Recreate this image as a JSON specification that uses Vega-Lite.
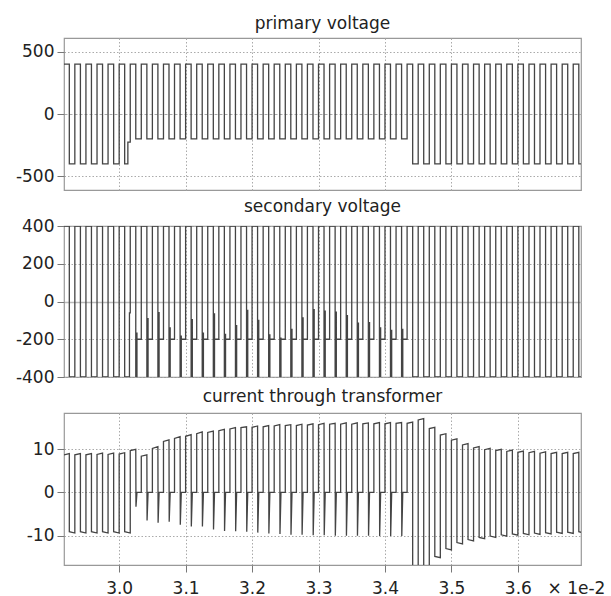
{
"$schema": "https://vega.github.io/schema/vega-lite/v6.json",
"padding": {"left": 14, "top": 14, "right": 5, "bottom": 5},
"background": "white",
"config": {
  "font": "DejaVu Sans",
  "view": {"stroke": "#999", "strokeWidth": 1.2},
  "axis": {"labelFont": "DejaVu Sans", "labelFontSize": 17, "labelColor": "#222", "tickColor": "#777", "domain": false, "grid": true, "gridColor": "#aaa", "gridDash": [1.5, 2], "tickSize": 7, "labelPadding": 3, "labelOverlap": false, "title": null, "labelExpr": "replace(datum.label, '−', '-')"},
  "title": {"font": "DejaVu Sans", "fontSize": 17, "fontWeight": "normal", "color": "#222", "baseline": "alphabetic", "anchor": "middle", "frame": "group"}
},
"bounds": "flush",
"spacing": 36,
"datasets": {
"primary": [
{"t":2.9167,"v":400},{"t":2.925,"v":-400},{"t":2.9333,"v":400},{"t":2.9417,"v":-400},{"t":2.95,"v":400},{"t":2.9583,"v":-400},{"t":2.9667,"v":400},{"t":2.975,"v":-400},{"t":2.9833,"v":400},{"t":2.9917,"v":-400},{"t":3.0,"v":400},{"t":3.0083,"v":-400},{"t":3.0131,"v":-225},
{"t":3.0167,"v":400},{"t":3.025,"v":-200},{"t":3.0333,"v":400},{"t":3.0417,"v":-200},{"t":3.05,"v":400},{"t":3.0583,"v":-200},{"t":3.0667,"v":400},{"t":3.075,"v":-200},{"t":3.0833,"v":400},{"t":3.0917,"v":-200},{"t":3.1,"v":400},{"t":3.1083,"v":-200},{"t":3.1167,"v":400},{"t":3.125,"v":-200},{"t":3.1333,"v":400},{"t":3.1417,"v":-200},{"t":3.15,"v":400},{"t":3.1583,"v":-200},{"t":3.1667,"v":400},{"t":3.175,"v":-200},{"t":3.1833,"v":400},{"t":3.1917,"v":-200},{"t":3.2,"v":400},{"t":3.2083,"v":-200},{"t":3.2167,"v":400},{"t":3.225,"v":-200},{"t":3.2333,"v":400},{"t":3.2417,"v":-200},{"t":3.25,"v":400},{"t":3.2583,"v":-200},{"t":3.2667,"v":400},{"t":3.275,"v":-200},{"t":3.2833,"v":400},{"t":3.2917,"v":-200},{"t":3.3,"v":400},{"t":3.3083,"v":-200},{"t":3.3167,"v":400},{"t":3.325,"v":-200},{"t":3.3333,"v":400},{"t":3.3417,"v":-200},{"t":3.35,"v":400},{"t":3.3583,"v":-200},{"t":3.3667,"v":400},{"t":3.375,"v":-200},{"t":3.3833,"v":400},{"t":3.3917,"v":-200},{"t":3.4,"v":400},{"t":3.4083,"v":-200},{"t":3.4167,"v":400},{"t":3.425,"v":-200},
{"t":3.4333,"v":400},{"t":3.4417,"v":-400},{"t":3.45,"v":400},{"t":3.4583,"v":-400},{"t":3.4667,"v":400},{"t":3.475,"v":-400},{"t":3.4833,"v":400},{"t":3.4917,"v":-400},{"t":3.5,"v":400},{"t":3.5083,"v":-400},{"t":3.5167,"v":400},{"t":3.525,"v":-400},{"t":3.5333,"v":400},{"t":3.5417,"v":-400},{"t":3.55,"v":400},{"t":3.5583,"v":-400},{"t":3.5667,"v":400},{"t":3.575,"v":-400},{"t":3.5833,"v":400},{"t":3.5917,"v":-400},{"t":3.6,"v":400},{"t":3.6083,"v":-400},{"t":3.6167,"v":400},{"t":3.625,"v":-400},{"t":3.6333,"v":400},{"t":3.6417,"v":-400},{"t":3.65,"v":400},{"t":3.6583,"v":-400},{"t":3.6667,"v":400},{"t":3.675,"v":-400},{"t":3.6833,"v":400},{"t":3.6917,"v":-400},{"t":3.7,"v":400}
],
"secondary": [
{"t":2.9167,"v":400},{"t":2.925,"v":-400},{"t":2.9333,"v":400},{"t":2.9417,"v":-400},{"t":2.95,"v":400},{"t":2.9583,"v":-400},{"t":2.9667,"v":400},{"t":2.975,"v":-400},{"t":2.9833,"v":400},{"t":2.9917,"v":-400},{"t":3.0,"v":400},{"t":3.0083,"v":-400},{"t":3.0155,"v":-60},
{"t":3.0167,"v":400},{"t":3.025,"v":-400},{"t":3.0268,"v":-164},{"t":3.0268,"v":-200},
{"t":3.0333,"v":400},{"t":3.0417,"v":-400},{"t":3.0435,"v":-88},{"t":3.0435,"v":-200},
{"t":3.05,"v":400},{"t":3.0583,"v":-400},{"t":3.0601,"v":-56},{"t":3.0601,"v":-200},
{"t":3.0667,"v":400},{"t":3.075,"v":-400},{"t":3.0768,"v":-136},{"t":3.0768,"v":-200},
{"t":3.0833,"v":400},{"t":3.0917,"v":-400},{"t":3.0935,"v":-180},{"t":3.0935,"v":-200},
{"t":3.1,"v":400},{"t":3.1083,"v":-400},{"t":3.1101,"v":-93},{"t":3.1101,"v":-200},
{"t":3.1167,"v":400},{"t":3.125,"v":-400},{"t":3.1268,"v":-164},{"t":3.1268,"v":-200},
{"t":3.1333,"v":400},{"t":3.1417,"v":-400},{"t":3.1435,"v":-62},{"t":3.1435,"v":-200},
{"t":3.15,"v":400},{"t":3.1583,"v":-400},{"t":3.1601,"v":-171},{"t":3.1601,"v":-200},
{"t":3.1667,"v":400},{"t":3.175,"v":-400},{"t":3.1768,"v":-124},{"t":3.1768,"v":-200},
{"t":3.1833,"v":400},{"t":3.1917,"v":-400},{"t":3.1935,"v":-44},{"t":3.1935,"v":-200},
{"t":3.2,"v":400},{"t":3.2083,"v":-400},{"t":3.2101,"v":-97},{"t":3.2101,"v":-200},
{"t":3.2167,"v":400},{"t":3.225,"v":-400},{"t":3.2268,"v":-173},{"t":3.2268,"v":-200},
{"t":3.2333,"v":400},{"t":3.2417,"v":-400},{"t":3.2435,"v":-191},{"t":3.2435,"v":-200},
{"t":3.25,"v":400},{"t":3.2583,"v":-400},{"t":3.2601,"v":-145},{"t":3.2601,"v":-200},
{"t":3.2667,"v":400},{"t":3.275,"v":-400},{"t":3.2768,"v":-83},{"t":3.2768,"v":-200},
{"t":3.2833,"v":400},{"t":3.2917,"v":-400},{"t":3.2935,"v":-40},{"t":3.2935,"v":-200},
{"t":3.3,"v":400},{"t":3.3083,"v":-400},{"t":3.3101,"v":-48},{"t":3.3101,"v":-200},
{"t":3.3167,"v":400},{"t":3.325,"v":-400},{"t":3.3268,"v":-53},{"t":3.3268,"v":-200},
{"t":3.3333,"v":400},{"t":3.3417,"v":-400},{"t":3.3435,"v":-71},{"t":3.3435,"v":-200},
{"t":3.35,"v":400},{"t":3.3583,"v":-400},{"t":3.3601,"v":-111},{"t":3.3601,"v":-200},
{"t":3.3667,"v":400},{"t":3.375,"v":-400},{"t":3.3768,"v":-109},{"t":3.3768,"v":-200},
{"t":3.3833,"v":400},{"t":3.3917,"v":-400},{"t":3.3935,"v":-136},{"t":3.3935,"v":-200},
{"t":3.4,"v":400},{"t":3.4083,"v":-400},{"t":3.4101,"v":-150},{"t":3.4101,"v":-200},
{"t":3.4167,"v":400},{"t":3.425,"v":-400},{"t":3.4268,"v":-145},{"t":3.4268,"v":-200},
{"t":3.4333,"v":400},{"t":3.4417,"v":-400},{"t":3.45,"v":400},{"t":3.4583,"v":-400},{"t":3.4667,"v":400},{"t":3.475,"v":-400},{"t":3.4833,"v":400},{"t":3.4917,"v":-400},{"t":3.5,"v":400},{"t":3.5083,"v":-400},{"t":3.5167,"v":400},{"t":3.525,"v":-400},{"t":3.5333,"v":400},{"t":3.5417,"v":-400},{"t":3.55,"v":400},{"t":3.5583,"v":-400},{"t":3.5667,"v":400},{"t":3.575,"v":-400},{"t":3.5833,"v":400},{"t":3.5917,"v":-400},{"t":3.6,"v":400},{"t":3.6083,"v":-400},{"t":3.6167,"v":400},{"t":3.625,"v":-400},{"t":3.6333,"v":400},{"t":3.6417,"v":-400},{"t":3.65,"v":400},{"t":3.6583,"v":-400},{"t":3.6667,"v":400},{"t":3.675,"v":-400},{"t":3.6833,"v":400},{"t":3.6917,"v":-400},{"t":3.7,"v":400}
],
"current": [
{"t":2.9167,"v":8.7},{"t":2.925,"v":9.0},{"t":2.925,"v":-9.1},{"t":2.9333,"v":-9.4},
{"t":2.9333,"v":8.7},{"t":2.9417,"v":9.0},{"t":2.9417,"v":-9.1},{"t":2.95,"v":-9.4},
{"t":2.95,"v":8.7},{"t":2.9583,"v":9.0},{"t":2.9583,"v":-9.1},{"t":2.9667,"v":-9.4},
{"t":2.9667,"v":8.8},{"t":2.975,"v":9.1},{"t":2.975,"v":-9.1},{"t":2.9833,"v":-9.4},
{"t":2.9833,"v":8.8},{"t":2.9917,"v":9.1},{"t":2.9917,"v":-9.1},{"t":3.0,"v":-9.4},
{"t":3.0,"v":8.9},{"t":3.0083,"v":9.2},{"t":3.0083,"v":-9.1},{"t":3.0167,"v":-9.4},
{"t":3.0167,"v":9.7},{"t":3.025,"v":10.0},{"t":3.0253,"v":-3.3},{"t":3.0268,"v":0},{"t":3.0333,"v":0},
{"t":3.0333,"v":8.4},{"t":3.0417,"v":8.7},{"t":3.042,"v":-6.5},{"t":3.0435,"v":0},{"t":3.05,"v":0},
{"t":3.05,"v":10.2},{"t":3.0583,"v":10.6},{"t":3.0586,"v":-7.0},{"t":3.0601,"v":0},{"t":3.0667,"v":0},
{"t":3.0667,"v":11.8},{"t":3.075,"v":12.2},{"t":3.0753,"v":-6.8},{"t":3.0768,"v":0},{"t":3.0833,"v":0},
{"t":3.0833,"v":12.5},{"t":3.0917,"v":12.9},{"t":3.092,"v":-7.5},{"t":3.0935,"v":0},{"t":3.1,"v":0},
{"t":3.1,"v":13.0},{"t":3.1083,"v":13.4},{"t":3.1086,"v":-7.9},{"t":3.1101,"v":0},{"t":3.1167,"v":0},
{"t":3.1167,"v":13.6},{"t":3.125,"v":14.0},{"t":3.1253,"v":-7.9},{"t":3.1268,"v":0},{"t":3.1333,"v":0},
{"t":3.1333,"v":13.9},{"t":3.1417,"v":14.2},{"t":3.142,"v":-8.6},{"t":3.1435,"v":0},{"t":3.15,"v":0},
{"t":3.15,"v":14.3},{"t":3.1583,"v":14.6},{"t":3.1586,"v":-8.9},{"t":3.1601,"v":0},{"t":3.1667,"v":0},
{"t":3.1667,"v":14.7},{"t":3.175,"v":15.0},{"t":3.1753,"v":-9.0},{"t":3.1768,"v":0},{"t":3.1833,"v":0},
{"t":3.1833,"v":15.0},{"t":3.1917,"v":15.2},{"t":3.192,"v":-9.1},{"t":3.1935,"v":0},{"t":3.2,"v":0},
{"t":3.2,"v":15.1},{"t":3.2083,"v":15.4},{"t":3.2086,"v":-9.3},{"t":3.2101,"v":0},{"t":3.2167,"v":0},
{"t":3.2167,"v":15.2},{"t":3.225,"v":15.5},{"t":3.2253,"v":-9.5},{"t":3.2268,"v":0},{"t":3.2333,"v":0},
{"t":3.2333,"v":15.4},{"t":3.2417,"v":15.7},{"t":3.242,"v":-9.6},{"t":3.2435,"v":0},{"t":3.25,"v":0},
{"t":3.25,"v":15.5},{"t":3.2583,"v":15.7},{"t":3.2586,"v":-9.8},{"t":3.2601,"v":0},{"t":3.2667,"v":0},
{"t":3.2667,"v":15.5},{"t":3.275,"v":15.8},{"t":3.2753,"v":-9.8},{"t":3.2768,"v":0},{"t":3.2833,"v":0},
{"t":3.2833,"v":15.6},{"t":3.2917,"v":15.9},{"t":3.292,"v":-9.9},{"t":3.2935,"v":0},{"t":3.3,"v":0},
{"t":3.3,"v":15.7},{"t":3.3083,"v":16.0},{"t":3.3086,"v":-9.9},{"t":3.3101,"v":0},{"t":3.3167,"v":0},
{"t":3.3167,"v":15.8},{"t":3.325,"v":16.0},{"t":3.3253,"v":-10.0},{"t":3.3268,"v":0},{"t":3.3333,"v":0},
{"t":3.3333,"v":15.8},{"t":3.3417,"v":16.1},{"t":3.342,"v":-10.0},{"t":3.3435,"v":0},{"t":3.35,"v":0},
{"t":3.35,"v":15.8},{"t":3.3583,"v":16.1},{"t":3.3586,"v":-10.0},{"t":3.3601,"v":0},{"t":3.3667,"v":0},
{"t":3.3667,"v":15.9},{"t":3.375,"v":16.1},{"t":3.3753,"v":-10.0},{"t":3.3768,"v":0},{"t":3.3833,"v":0},
{"t":3.3833,"v":15.9},{"t":3.3917,"v":16.2},{"t":3.392,"v":-10.1},{"t":3.3935,"v":0},{"t":3.4,"v":0},
{"t":3.4,"v":15.9},{"t":3.4083,"v":16.2},{"t":3.4086,"v":-10.1},{"t":3.4101,"v":0},{"t":3.4167,"v":0},
{"t":3.4167,"v":16.0},{"t":3.425,"v":16.2},{"t":3.4253,"v":-10.1},{"t":3.4268,"v":0},{"t":3.4333,"v":0},
{"t":3.4333,"v":16.0},{"t":3.4417,"v":16.3},{"t":3.4417,"v":-18.0},{"t":3.45,"v":-18.4},
{"t":3.45,"v":16.8},{"t":3.4583,"v":17.1},{"t":3.4583,"v":-17.4},{"t":3.4667,"v":-17.7},
{"t":3.4667,"v":14.8},{"t":3.475,"v":15.1},{"t":3.475,"v":-14.8},{"t":3.4833,"v":-15.1},
{"t":3.4833,"v":13.3},{"t":3.4917,"v":13.6},{"t":3.4917,"v":-13.0},{"t":3.5,"v":-13.3},
{"t":3.5,"v":12.1},{"t":3.5083,"v":12.4},{"t":3.5083,"v":-11.6},{"t":3.5167,"v":-11.9},
{"t":3.5167,"v":11.0},{"t":3.525,"v":11.3},{"t":3.525,"v":-10.9},{"t":3.5333,"v":-11.2},
{"t":3.5333,"v":10.3},{"t":3.5417,"v":10.6},{"t":3.5417,"v":-10.4},{"t":3.55,"v":-10.7},
{"t":3.55,"v":9.9},{"t":3.5583,"v":10.2},{"t":3.5583,"v":-10.1},{"t":3.5667,"v":-10.4},
{"t":3.5667,"v":9.7},{"t":3.575,"v":10.0},{"t":3.575,"v":-9.8},{"t":3.5833,"v":-10.1},
{"t":3.5833,"v":9.5},{"t":3.5917,"v":9.8},{"t":3.5917,"v":-9.6},{"t":3.6,"v":-9.9},
{"t":3.6,"v":9.3},{"t":3.6083,"v":9.6},{"t":3.6083,"v":-9.5},{"t":3.6167,"v":-9.8},
{"t":3.6167,"v":9.2},{"t":3.625,"v":9.5},{"t":3.625,"v":-9.4},{"t":3.6333,"v":-9.7},
{"t":3.6333,"v":9.1},{"t":3.6417,"v":9.4},{"t":3.6417,"v":-9.3},{"t":3.65,"v":-9.6},
{"t":3.65,"v":9.0},{"t":3.6583,"v":9.3},{"t":3.6583,"v":-9.2},{"t":3.6667,"v":-9.5},
{"t":3.6667,"v":9.0},{"t":3.675,"v":9.3},{"t":3.675,"v":-9.2},{"t":3.6833,"v":-9.5},
{"t":3.6833,"v":9.0},{"t":3.6917,"v":9.3},{"t":3.6917,"v":-9.1},{"t":3.7,"v":-9.4}
]
},
"vconcat": [
{
  "width": 517, "height": 152,
  "title": {"text": "primary voltage", "offset": 5},
  "data": {"name": "primary"},
  "mark": {"type": "line", "interpolate": "step-after", "color": "#444", "strokeWidth": 1.3, "clip": true},
  "encoding": {
    "x": {"field": "t", "type": "quantitative", "scale": {"domain": [2.917, 3.695], "nice": false, "zero": false}, "axis": {"values": [3.0, 3.1, 3.2, 3.3, 3.4, 3.5, 3.6], "labels": false, "ticks": false}},
    "y": {"field": "v", "type": "quantitative", "scale": {"domain": [-610, 610], "nice": false}, "axis": {"values": [-500, 0, 500], "gridDash": {"condition": {"test": "datum.value === 0", "value": [3, 2]}, "value": [1.5, 2]}}},
    "order": {"value": null}
  }
},
{
  "width": 517, "height": 151,
  "title": {"text": "secondary voltage", "offset": 1},
  "data": {"name": "secondary"},
  "mark": {"type": "line", "interpolate": "step-after", "color": "#444", "strokeWidth": 1.3, "clip": true},
  "encoding": {
    "x": {"field": "t", "type": "quantitative", "scale": {"domain": [2.917, 3.695], "nice": false, "zero": false}, "axis": {"values": [3.0, 3.1, 3.2, 3.3, 3.4, 3.5, 3.6], "labels": false, "ticks": false}},
    "y": {"field": "v", "type": "quantitative", "scale": {"domain": [-400, 400], "nice": false}, "axis": {"values": [-400, -200, 0, 200, 400], "gridDash": {"condition": {"test": "datum.value === 0", "value": []}, "value": [1.5, 2]}, "gridColor": {"condition": {"test": "datum.value === 0", "value": "#bbb"}, "value": "#aaa"}, "gridWidth": {"condition": {"test": "datum.value === 0", "value": 1.6}, "value": 1}}},
    "order": {"value": null}
  }
},
{
  "width": 517, "height": 152,
  "title": {"text": "current through transformer", "offset": 7},
  "data": {"name": "current"},
  "mark": {"type": "line", "color": "#444", "strokeWidth": 1.3, "clip": true},
  "encoding": {
    "x": {"field": "t", "type": "quantitative", "scale": {"domain": [2.917, 3.695], "nice": false, "zero": false}, "axis": {"values": [3.0, 3.1, 3.2, 3.3, 3.4, 3.5, 3.6], "format": ".1f", "labelPadding": 8, "title": "× 1e-2", "titleFont": "DejaVu Sans", "titleFontSize": 17, "titleFontWeight": "normal", "titleColor": "#222", "titleAlign": "left", "titleBaseline": "alphabetic", "titleAngle": 0, "titleX": 483, "titleY": 28}},
    "y": {"field": "v", "type": "quantitative", "scale": {"domain": [-16.8, 18.4], "nice": false, "zero": false}, "axis": {"values": [-10, 0, 10]}},
    "order": {"value": null}
  }
}
]
}
